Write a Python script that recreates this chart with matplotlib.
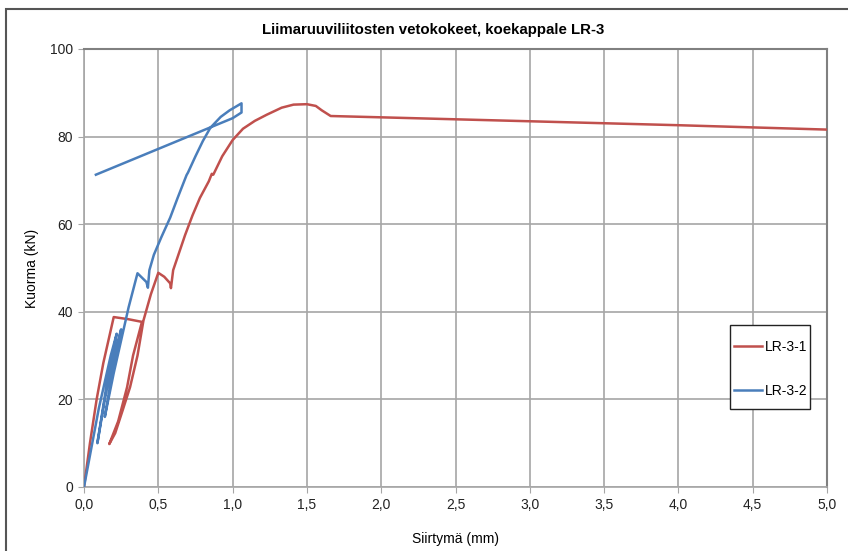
import matplotlib
matplotlib.use("Agg")
import matplotlib.pyplot as plt
from matplotlib.patches import Rectangle
from matplotlib.ticker import FuncFormatter

# LR-3-1 (red)
red_x = [0, 0.04, 0.085, 0.13, 0.2, 0.3, 0.39, 0.33, 0.29, 0.23, 0.17, 0.21, 0.26,
         0.31, 0.36, 0.4, 0.45, 0.5, 0.54, 0.58, 0.585, 0.6, 0.64, 0.68, 0.73, 0.78,
         0.84, 0.86, 0.87, 0.93, 1.0, 1.07, 1.15, 1.23, 1.33, 1.41, 1.5, 1.56, 1.6,
         1.66, 2.0, 3.0, 4.0, 5.0]
red_y = [0, 10, 20, 28.3, 38.8, 38.3, 37.7, 30, 22.8, 15, 9.8, 12.3, 17.5,
         22.8, 30, 38, 44, 48.9, 48, 46.5, 45.4, 49.5, 53.5, 57.5, 62, 66,
         69.8, 71.5, 71.3, 75.5, 79.2, 81.8, 83.6, 85, 86.6, 87.3, 87.4, 87, 86,
         84.7, 84.4, 83.5, 82.6, 81.6]

# LR-3-2 (blue)
blue_x = [0, 0.1, 0.18, 0.22, 0.16, 0.09, 0.14, 0.2, 0.25, 0.19, 0.14, 0.2, 0.26,
          0.3, 0.36, 0.42, 0.43, 0.44, 0.47, 0.52, 0.58, 0.63, 0.69, 0.70, 0.75,
          0.8, 0.85, 0.92, 0.98, 1.03, 1.06, 1.06, 1.0, 0.08]
blue_y = [0, 18, 30, 35, 25, 10, 20, 30, 36, 26, 16, 26, 35,
          41, 48.8, 46.8, 45.5, 49.5, 53, 57, 61.5, 66, 71.2, 71.8, 75.5,
          79, 82, 84.5, 86, 87, 87.6, 85.5, 84.2, 71.3]

x_ticks = [0, 0.5, 1.0, 1.5, 2.0, 2.5, 3.0, 3.5, 4.0, 4.5, 5.0]
y_ticks = [0, 20, 40, 60, 80, 100]

title = "Liimaruuviliitosten vetokokeet, koekappale LR-3"
x_label = "Siirtymä (mm)"
y_label = "Kuorma (kN)"
labels = ["LR-3-1", "LR-3-2"]

plt.rcParams['font.family'] = ['Liberation Sans', 'DejaVu Sans']

W, H = 848, 551
fig = plt.figure(figsize=(W/100, H/100), dpi=100)
ax = fig.add_axes([84/W, 1 - 487/H, (827-84)/W, (487-49)/H])

ax.plot(red_x, red_y, color="#c0504d", lw=1.8, label=labels[0], zorder=3)
ax.plot(blue_x, blue_y, color="#4a7ebb", lw=1.8, label=labels[1], zorder=3)

ax.set_xlim(0, 5)
ax.set_ylim(0, 100)
ax.set_xticks(x_ticks)
ax.set_yticks(y_ticks)
ax.xaxis.set_major_formatter(FuncFormatter(lambda v, p: f"{v:.1f}".replace(".", ",")))
ax.yaxis.set_major_formatter(FuncFormatter(lambda v, p: f"{v:.0f}"))
ax.grid(True, color="#a6a6a6", lw=1.2)
ax.set_axisbelow(True)
for s in ["left", "bottom"]:
    ax.spines[s].set_color("#a6a6a6")
    ax.spines[s].set_linewidth(1.2)
for s in ["top", "right"]:
    ax.spines[s].set_color("#808080")
    ax.spines[s].set_linewidth(1.5)
ax.tick_params(axis="both", direction="out", length=4, color="#a6a6a6",
               labelsize=10, labelcolor="#222222", pad=4)

fig.text(433/W, 1 - 30/H, title, fontsize=10.8, fontweight="bold",
         ha="center", va="center")
ax.set_xlabel(x_label, fontsize=10, labelpad=14)
ax.set_ylabel(y_label, fontsize=10, labelpad=8)

# legend frame (drawn manually to match the box size)
ax.add_patch(Rectangle((730/W, 1 - 409/H), 80/W, 84/H,
                       transform=fig.transFigure, facecolor="white",
                       edgecolor="#222222", lw=1.0, zorder=5, clip_on=False))
leg = ax.legend(loc="upper left", bbox_to_anchor=((731-84)/743, (487-337)/438),
                frameon=False, fontsize=10, labelspacing=2.2,
                handlelength=2.0, handletextpad=0.25, borderpad=0.2,
                borderaxespad=0)
leg.set_zorder(6)

fig.patches.append(Rectangle((6/W, -0.1), 1.2, 1.1 - 9/H,
                             transform=fig.transFigure, fill=False,
                             edgecolor="#555555", lw=1.5))

fig.savefig("out.png", dpi=100)
